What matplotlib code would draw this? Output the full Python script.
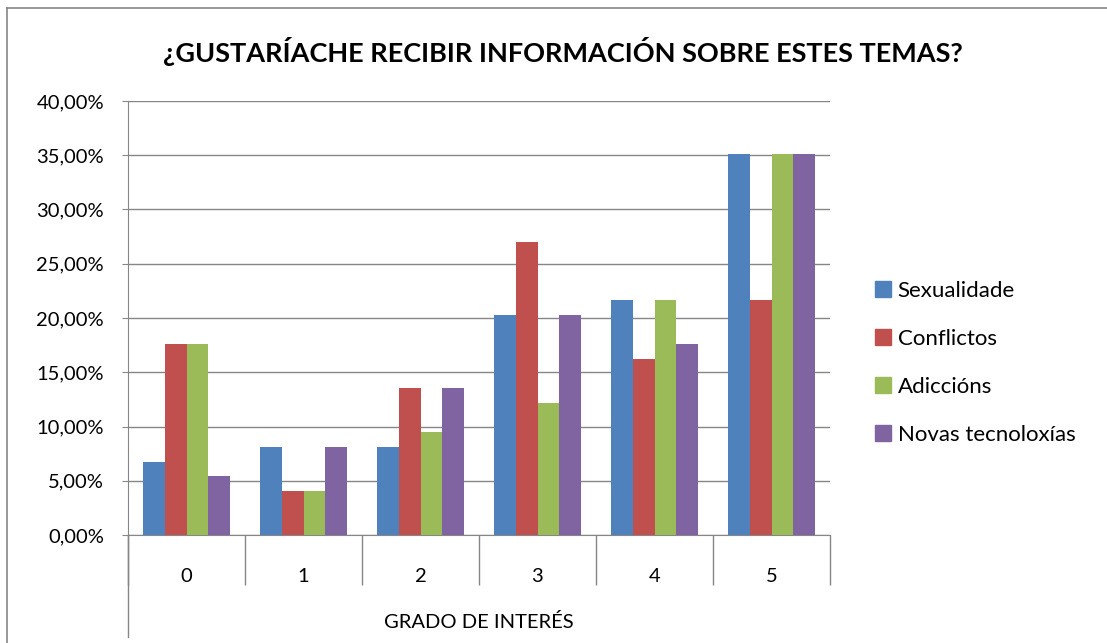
import matplotlib
matplotlib.use("Agg")
import matplotlib.pyplot as plt
import numpy as np
from matplotlib.lines import Line2D
from matplotlib.ticker import FuncFormatter, FixedLocator

plt.rcParams['font.family'] = ['Lato', 'DejaVu Sans']

categories = ["0", "1", "2", "3", "4", "5"]
series_names = ["Sexualidade", "Conflictos", "Adiccións", "Novas tecnoloxías"]
sexualidade = [6.76, 8.11, 8.11, 20.27, 21.62, 35.14]
conflictos = [17.57, 4.05, 13.51, 27.03, 16.22, 21.62]
adiccions = [17.57, 4.05, 9.46, 12.16, 21.62, 35.14]
novas = [5.41, 8.11, 13.51, 20.27, 17.57, 35.14]
colors = ["#4F81BD", "#C0504D", "#9BBB59", "#8064A2"]
title = "¿GUSTARÍACHE RECIBIR INFORMACIÓN SOBRE ESTES TEMAS?"
xlabel = "GRADO DE INTERÉS"

W, H = 1107, 643
fig = plt.figure(figsize=(W/100, H/100), dpi=100)
ax = fig.add_axes([128/W, (H-535)/H, 702/W, 434/H])

data = [sexualidade, conflictos, adiccions, novas]
x = np.arange(len(categories))
bw = 0.184
for i, (vals, name, c) in enumerate(zip(data, series_names, colors)):
    ax.bar(x + (i - 1.5) * bw, vals, width=bw, color=c, label=name, zorder=3)

grid_c = "#868686"
ax.set_xlim(-0.5, len(categories) - 0.5)
ax.set_ylim(0, 40)
ax.set_yticks(np.arange(0, 41, 5))
ax.yaxis.set_major_formatter(FuncFormatter(lambda v, p: f"{v:.2f}".replace(".", ",") + "%"))
ax.yaxis.grid(True, color=grid_c, linewidth=1, zorder=0)
ax.tick_params(axis='y', length=4.3, color=grid_c, labelsize=14.5, pad=13)

ax.set_xticks(x)
ax.set_xticklabels(categories)
ax.xaxis.set_minor_locator(FixedLocator(np.arange(-0.5, len(categories), 1.0)))
ax.tick_params(axis='x', which='major', length=0, labelsize=14.5, pad=24)
ax.tick_params(axis='x', which='minor', length=36, color=grid_c, width=1)

for s in ['top', 'right']:
    ax.spines[s].set_visible(False)
for s in ['left', 'bottom']:
    ax.spines[s].set_color(grid_c)

ax.add_line(Line2D([0, 0], [0, -102/434], transform=ax.transAxes, color=grid_c, lw=1, clip_on=False))
ax.text(0.5, -87/434, xlabel, transform=ax.transAxes, ha='center', va='center', fontsize=14.5)

fig.text(563/W, 1 - 52/H, title, ha='center', va='center', fontsize=19.5, fontweight='bold')

handles = [plt.Rectangle((0, 0), 1, 1, color=c) for c in colors]
fig.legend(handles, series_names, loc='center left', bbox_to_anchor=(855/W, 1 - 363/H),
           frameon=False, fontsize=16, handlelength=0.72, handleheight=0.72,
           handletextpad=0.3, labelspacing=1.26)

fig.add_artist(Line2D([7/W, 7/W], [0, 1 - 8/H], transform=fig.transFigure, color=grid_c, lw=1.2))
fig.add_artist(Line2D([7/W, 1], [1 - 8/H, 1 - 8/H], transform=fig.transFigure, color=grid_c, lw=1.2))

fig.savefig("out.png", dpi=100)
